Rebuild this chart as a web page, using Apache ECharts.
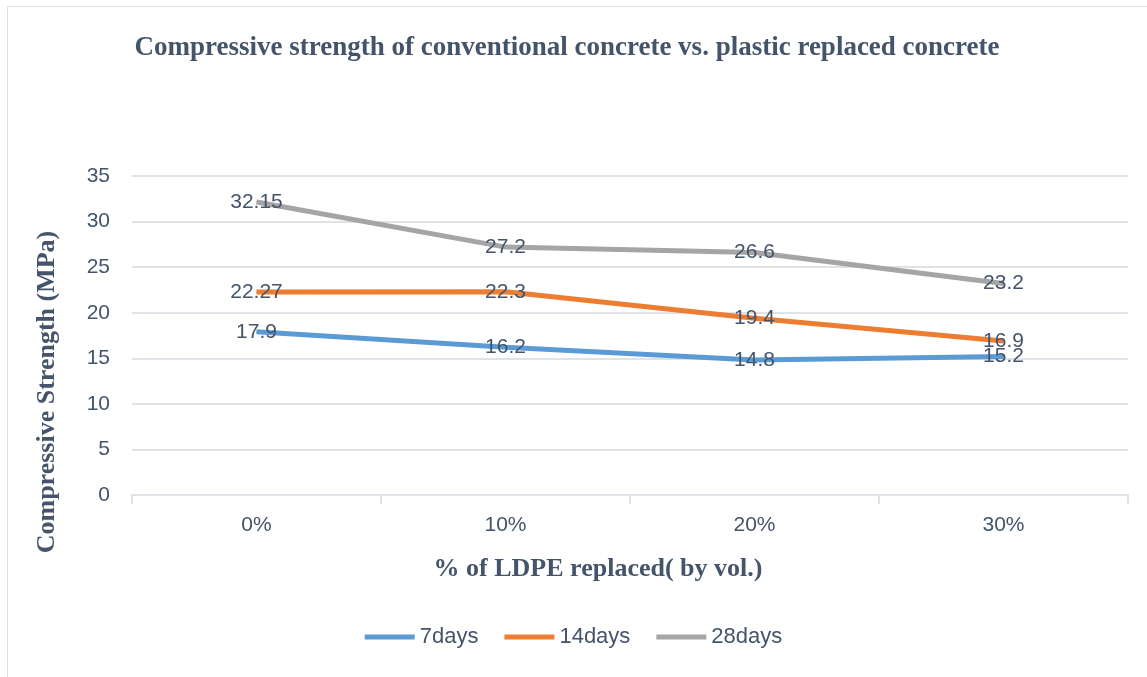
<!DOCTYPE html>
<html>
<head>
<meta charset="utf-8">
<script src="https://cdn.jsdelivr.net/npm/echarts@6/dist/echarts.min.js"></script>
<style>
  html, body { margin: 0; padding: 0; background: #fff; overflow: hidden; }
  #frame { position: absolute; left: 7px; top: 6px; width: 1200px; height: 720px; border: 1px solid #dde1e6; box-sizing: border-box; }
  #chart { position: absolute; left: 0; top: 0; width: 1147px; height: 677px; }
</style>
</head>
<body>
<div id="frame"></div>
<div id="chart"></div>
<script>
const categories = ["0%", "10%", "20%", "30%"];
const days7 = [17.9, 16.2, 14.8, 15.2];
const days14 = [22.27, 22.3, 19.4, 16.9];
const days28 = [32.15, 27.2, 26.6, 23.2];
const yTicks = { min: 0, max: 35, interval: 5 };

const textColor = "#44546a";
const gridColor = "#dfe3e8";
const sansFont = "Liberation Sans, Arial, sans-serif";

function lineSeries(name, data, color) {
  return {
    name,
    type: "line",
    data,
    symbol: "circle",
    symbolSize: 1,
    itemStyle: { color },
    lineStyle: { width: 5, color },
    label: {
      show: true,
      position: "inside",
      color: textColor,
      fontSize: 21,
      fontFamily: sansFont
    },
    emphasis: { disabled: true }
  };
}

const chart = echarts.init(document.getElementById("chart"));
chart.setOption({
  animation: false,
  title: {
    text: "Compressive strength of conventional concrete vs. plastic replaced concrete",
    left: 562,
    top: 30,
    textAlign: "center",
    textStyle: {
      fontFamily: "Liberation Serif, Times New Roman, serif",
      fontWeight: "bold",
      fontSize: 27,
      color: textColor
    }
  },
  grid: { left: 132, right: 19, top: 176, bottom: 182 },
  legend: {
    bottom: 24,
    left: "center",
    icon: "rect",
    itemWidth: 50,
    itemHeight: 5,
    itemGap: 26,
    textStyle: { color: textColor, fontSize: 22, fontFamily: sansFont },
    data: ["7days", "14days", "28days"]
  },
  xAxis: {
    type: "category",
    data: categories,
    boundaryGap: true,
    axisLine: { lineStyle: { color: gridColor, width: 2 } },
    axisTick: { show: true, length: 9, lineStyle: { color: gridColor, width: 2 } },
    axisLabel: { color: textColor, fontSize: 21, margin: 20, fontFamily: sansFont }
  },
  yAxis: {
    type: "value",
    min: yTicks.min,
    max: yTicks.max,
    interval: yTicks.interval,
    axisLine: { show: false },
    axisTick: { show: false },
    axisLabel: { color: textColor, fontSize: 21, margin: 22, fontFamily: sansFont },
    splitLine: { lineStyle: { color: gridColor, width: 2 } }
  },
  graphic: [
    {
      type: "text",
      x: 47,
      y: 392,
      rotation: Math.PI / 2,
      style: {
        text: "Compressive Strength (MPa)",
        fill: textColor,
        font: "bold 26px 'Liberation Serif', 'Times New Roman', serif",
        textAlign: "center",
        textVerticalAlign: "middle"
      }
    },
    {
      type: "text",
      x: 598,
      y: 569,
      style: {
        text: "% of LDPE replaced( by vol.)",
        fill: textColor,
        font: "bold 26px 'Liberation Serif', 'Times New Roman', serif",
        textAlign: "center",
        textVerticalAlign: "middle"
      }
    }
  ],
  series: [
    lineSeries("7days", days7, "#5b9bd5"),
    lineSeries("14days", days14, "#ed7d31"),
    lineSeries("28days", days28, "#a5a5a5")
  ]
});
</script>
</body>
</html>
